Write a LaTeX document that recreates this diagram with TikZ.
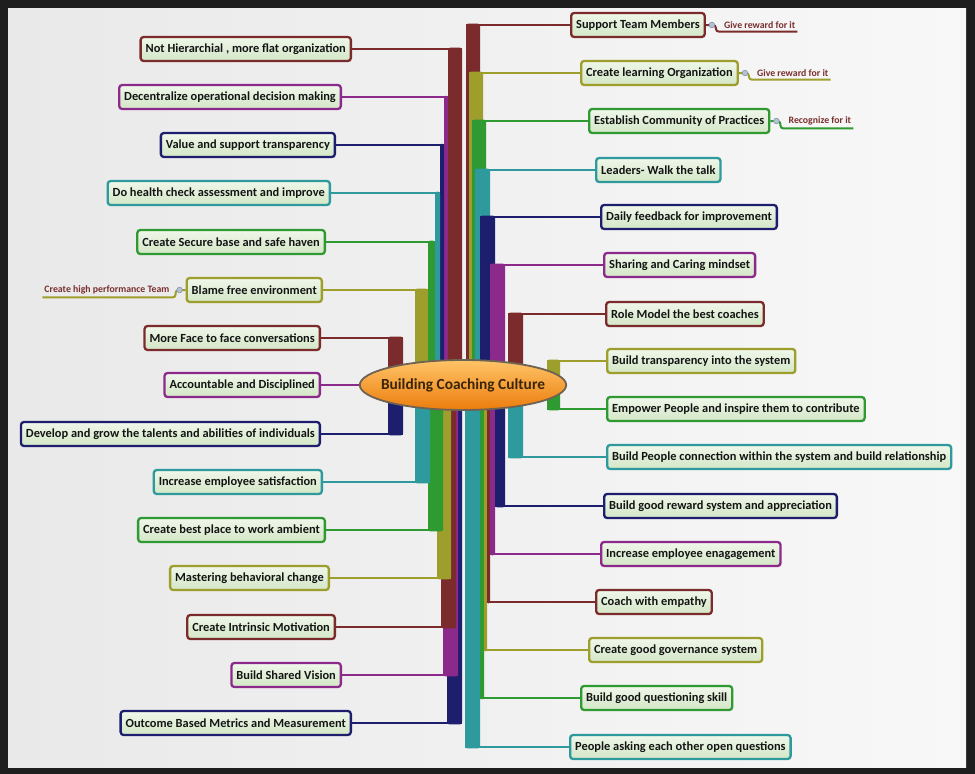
\documentclass[tikz,border=0pt]{standalone}
\usepackage{fontspec}
\newfontfamily\mapfont{Carlito}
\usetikzlibrary{shapes.geometric,positioning}

% branch colours
\definecolor{cDred}{HTML}{7B2B2B}
\definecolor{cPurp}{HTML}{8C2A8C}
\definecolor{cNavy}{HTML}{1E1E6E}
\definecolor{cTeal}{HTML}{2E9A9E}
\definecolor{cGreen}{HTML}{2F9A32}
\definecolor{cOlive}{HTML}{9E9E2C}
% boxes, hub and background
\definecolor{cLeafT}{HTML}{EFF7EA}
\definecolor{cLeafB}{HTML}{D3E6C6}
\definecolor{cInk}{HTML}{141414}
\definecolor{cSunT}{HTML}{FFC468}
\definecolor{cSunB}{HTML}{EC7C0C}
\definecolor{cRim}{HTML}{6E6252}
\definecolor{cHubInk}{HTML}{3A2508}
\definecolor{cTag}{HTML}{7A2E2E}
\definecolor{cBubble}{HTML}{B4C2D6}
\definecolor{cBubbleRim}{HTML}{8494AC}
\definecolor{cFrame}{HTML}{1E1E1E}
\definecolor{cPanelL}{HTML}{E9E9E9}
\definecolor{cPanelR}{HTML}{F8F8F8}

\tikzset{
  idea/.style={draw=#1, line width=2.3pt, rounded corners=3pt,
    top color=cLeafT, bottom color=cLeafB, text=cInk,
    minimum height=24pt, inner xsep=5pt, inner ysep=2pt,
    font=\mapfont\bfseries\fontsize{12.4}{14}\selectfont},
  hub/.style={ellipse, draw=cRim, line width=1.8pt,
    top color=cSunT, bottom color=cSunB, text=cHubInk,
    minimum height=50pt, inner xsep=-9pt, inner ysep=0pt,
    font=\mapfont\bfseries\fontsize{15.4}{18}\selectfont},
  branch/.style={draw=#1, line width=2.6pt},
  tag/.style={text=cTag, inner xsep=2pt, inner ysep=3pt,
    font=\mapfont\bfseries\fontsize{9.8}{11}\selectfont},
  twig/.style={draw=#1, line width=2pt, rounded corners=3pt},
  bubble/.style={fill=cBubble, draw=cBubbleRim, line width=0.6pt},
}

\begin{document}
\begin{tikzpicture}[x=1pt, y=-1pt]
  % page size of the reference, dark frame and light panel
  \useasboundingbox (0,0) rectangle (975,774);
  \fill[cFrame] (0,0) rectangle (975,774);
  \shade[left color=cPanelL, right color=cPanelR] (8,8) rectangle (966,767);

  % centre of the map, the hub itself is drawn over the trunks
  \coordinate (core) at (463,385);

  % left column of ideas
  \node[idea=cDred, anchor=east] (L1) at (352,49) {Not Hierarchial , more flat organization};
  \node[idea=cPurp, anchor=east] (L2) at (342,97) {Decentralize operational decision making};
  \node[idea=cNavy, anchor=east] (L3) at (336,145) {Value and support transparency};
  \node[idea=cTeal, anchor=east] (L4) at (331,193) {Do health check assessment and improve};
  \node[idea=cGreen, anchor=east] (L5) at (326,242) {Create Secure base and safe haven};
  \node[idea=cOlive, anchor=east] (L6) at (323,290) {Blame free environment};
  \node[idea=cDred, anchor=east] (L7) at (321,338) {More Face to face conversations};
  \node[idea=cPurp, anchor=east] (L8) at (321,385) {Accountable and Disciplined};
  \node[idea=cNavy, anchor=east] (L9) at (321,434) {Develop and grow the talents and abilities of individuals};
  \node[idea=cTeal, anchor=east] (L10) at (323,482) {Increase employee satisfaction};
  \node[idea=cGreen, anchor=east] (L11) at (326,530) {Create best place to work ambient};
  \node[idea=cOlive, anchor=east] (L12) at (330,578) {Mastering behavioral change};
  \node[idea=cDred, anchor=east] (L13) at (336,627) {Create Intrinsic Motivation};
  \node[idea=cPurp, anchor=east] (L14) at (342,675) {Build Shared Vision};
  \node[idea=cNavy, anchor=east] (L15) at (352,723) {Outcome Based Metrics and Measurement};

  % right column of ideas
  \node[idea=cDred, anchor=west] (R1) at (570,25) {Support Team Members};
  \node[idea=cOlive, anchor=west] (R2) at (580,73) {Create learning Organization};
  \node[idea=cGreen, anchor=west] (R3) at (588,121) {Establish Community of Practices};
  \node[idea=cTeal, anchor=west] (R4) at (595,170) {Leaders- Walk the talk};
  \node[idea=cNavy, anchor=west] (R5) at (600,217) {Daily feedback for improvement};
  \node[idea=cPurp, anchor=west] (R6) at (603,265) {Sharing and Caring mindset};
  \node[idea=cDred, anchor=west] (R7) at (605,314) {Role Model the best coaches};
  \node[idea=cOlive, anchor=west] (R8) at (606,361) {Build transparency into the system};
  \node[idea=cGreen, anchor=west] (R9) at (606,409) {Empower People and inspire them to contribute};
  \node[idea=cTeal, anchor=west] (R10) at (606,457) {Build People connection within the system and build relationship};
  \node[idea=cNavy, anchor=west] (R11) at (603,506) {Build good reward system and appreciation};
  \node[idea=cPurp, anchor=west] (R12) at (600,554) {Increase employee enagagement};
  \node[idea=cDred, anchor=west] (R13) at (595,602) {Coach with empathy};
  \node[idea=cOlive, anchor=west] (R14) at (588,650) {Create good governance system};
  \node[idea=cGreen, anchor=west] (R15) at (580,698) {Build good questioning skill};
  \node[idea=cTeal, anchor=west] (R16) at (569,747) {People asking each other open questions};

  % small tags hanging off some ideas
  \node[tag, right=16pt of R1] (T1) {Give reward for it};
  \node[tag, right=16pt of R2] (T2) {Give reward for it};
  \node[tag, right=16pt of R3] (T3) {Recognize for it};
  \node[tag, left=14pt of L6] (T6) {Create high performance Team};
  \draw[twig=cDred] (R1.east) -- ++(10,0) |- (T1.south east);
  \draw[twig=cOlive] (R2.east) -- ++(10,0) |- (T2.south east);
  \draw[twig=cGreen] (R3.east) -- ++(10,0) |- (T3.south east);
  \draw[twig=cOlive] (L6.west) -- ++(-10,0) |- (T6.south west);
  \foreach \nd in {R1,R2,R3}
    \filldraw[bubble] ([xshift=6pt]\nd.east) circle (2.8pt);
  \filldraw[bubble] ([xshift=-6pt]L6.west) circle (2.8pt);

  % trunks above the hub, left side
  \foreach \nd/\cl/\xa/\xb in {L1/cDred/448/462, L2/cPurp/444/448, L3/cNavy/440/444,
      L4/cTeal/435/440, L5/cGreen/428/435, L6/cOlive/415/428, L7/cDred/388/403}{
    \fill[\cl, rounded corners=2pt] (\xa,0 |- core) rectangle ([yshift=1.3pt]\xb,0 |- \nd.east);
    \draw[branch=\cl] (\nd.east) -- (\xb,0 |- \nd.east);
  }
  % trunks below the hub, left side (farthest first)
  \foreach \nd/\cl/\xa/\xb in {L15/cNavy/447/462, L14/cPurp/443/458, L13/cDred/441/456,
      L12/cOlive/437/451, L11/cGreen/428/443, L10/cTeal/415/430, L9/cNavy/388/403}{
    \fill[\cl, rounded corners=2pt] (\xa,0 |- core) rectangle ([yshift=-1.3pt]\xb,0 |- \nd.east);
    \draw[branch=\cl] (\nd.east) -- (\xb,0 |- \nd.east);
  }
  % trunks above the hub, right side (farthest first)
  \foreach \nd/\cl/\xa/\xb in {R1/cDred/466/480, R2/cOlive/469/483, R3/cGreen/472/486,
      R4/cTeal/475/490, R5/cNavy/480/495, R6/cPurp/490/505, R7/cDred/508/523, R8/cOlive/547/560}{
    \fill[\cl, rounded corners=2pt] (\xa,0 |- core) rectangle ([yshift=1.3pt]\xb,0 |- \nd.west);
    \draw[branch=\cl] (\nd.west) -- (\xa,0 |- \nd.west);
  }
  % trunks below the hub, right side
  \foreach \nd/\cl/\xa/\xb in {R16/cTeal/465/480, R15/cGreen/480/484, R14/cOlive/484/487,
      R13/cDred/487/490, R12/cPurp/490/495, R11/cNavy/495/505, R10/cTeal/508/523, R9/cGreen/547/560}{
    \fill[\cl, rounded corners=2pt] (\xa,0 |- core) rectangle ([yshift=-1.3pt]\xb,0 |- \nd.west);
    \draw[branch=\cl] (\nd.west) -- (\xa,0 |- \nd.west);
  }

  % the hub
  \node[hub] (hub) at (core) {Building Coaching Culture};
  \draw[branch=cPurp] (L8.east) -- (hub.west);
\end{tikzpicture}
\end{document}
